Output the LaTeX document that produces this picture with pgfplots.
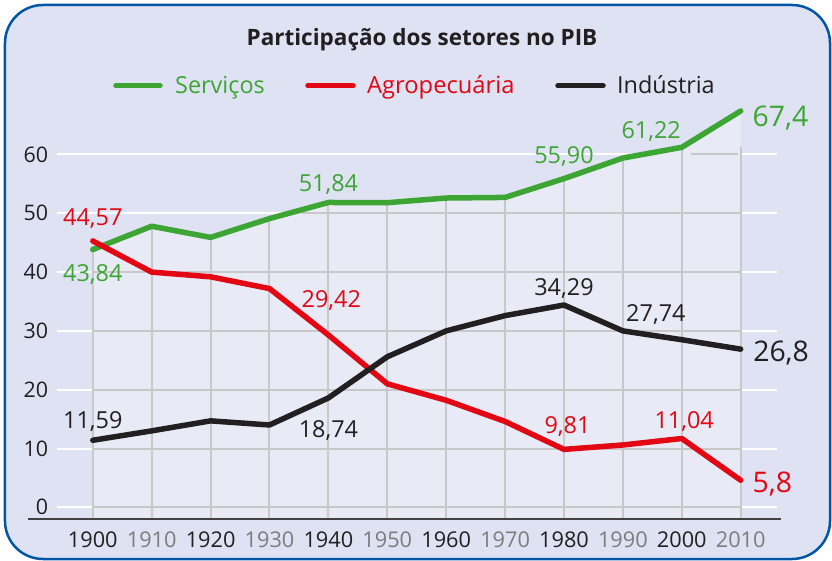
\documentclass[border=0pt]{standalone}
\usepackage{pgfplots}
\pgfplotsset{compat=1.18}
\usepackage{fontspec}
\setmainfont{Open Sans}
\definecolor{gserv}{RGB}{61,165,52}
\definecolor{ragro}{RGB}{227,6,19}
\definecolor{kind}{RGB}{35,31,32}
\definecolor{panel}{RGB}{222,226,242}
\definecolor{lightbg}{RGB}{232,234,246}
\definecolor{gridgray}{RGB}{200,200,200}
\definecolor{frameblue}{RGB}{0,86,164}
\definecolor{tickgray}{RGB}{125,125,125}
\pgfplotstableread{
year serv agro ind
1900 43.84 45.3 11.4
1910 47.8 40.0 13.0
1920 45.9 39.2 14.7
1930 49.1 37.2 14.0
1940 51.84 29.3 18.6
1950 51.8 21.0 25.6
1960 52.6 18.2 30.0
1970 52.7 14.6 32.6
1980 55.9 9.85 34.4
1990 59.4 10.6 30.0
2000 61.22 11.7 28.5
2010 67.4 4.6 26.9
}\datatable
\newcommand{\lab}{\fontsize{23.5}{28}\selectfont}
\newcommand{\biglab}{\fontsize{28.5}{34}\selectfont}
\begin{document}
\begin{tikzpicture}
\path[use as bounding box] (-28bp,-41.7bp) rectangle (804bp,519.3bp);
\draw[fill=panel, draw=frameblue, line width=2.5bp, rounded corners=38bp] (-23bp,-39.7bp) rectangle (802bp,514.3bp);
% title and legend
\node[anchor=base, inner sep=0pt, text=kind] at (394bp,473.3bp) {\fontsize{22.6}{27}\selectfont\bfseries Participação dos setores no PIB};
\draw[gserv, line width=5.5bp, line cap=round] (88bp,433.6bp) -- (132bp,433.6bp);
\node[anchor=base west, inner sep=0pt, text=gserv] at (147bp,425.3bp) {\fontsize{23.5}{27}\selectfont Serviços};
\draw[ragro, line width=5.5bp, line cap=round] (280bp,433.6bp) -- (325bp,433.6bp);
\node[anchor=base west, inner sep=0pt, text=ragro] at (339bp,425.3bp) {\fontsize{23.8}{27}\selectfont Agropecuária};
\draw[kind, line width=5.5bp, line cap=round] (530bp,433.6bp) -- (575bp,433.6bp);
\node[anchor=base west, inner sep=0pt, text=kind] at (589bp,425.3bp) {\fontsize{23.5}{27}\selectfont Indústria};
\begin{axis}[
  at={(0bp,0bp)}, anchor=south west,
  x=5.89bp, y=5.88bp,
  xmin=1889, xmax=2016.8, ymin=-2.04, ymax=70,
  clip=false,
  axis line style={draw=none},
  major tick length=0pt,
  xtick={1900,1910,...,2010},
  xticklabels={{\color{kind}1900},{\color{tickgray}1910},{\color{kind}1920},{\color{tickgray}1930},{\color{kind}1940},{\color{tickgray}1950},{\color{kind}1960},{\color{tickgray}1970},{\color{kind}1980},{\color{tickgray}1990},{\color{kind}2000},{\color{tickgray}2010}},
  ytick={0,10,...,60},
  /pgf/number format/assume math mode=true,
  xticklabel style={font=\fontsize{21.8}{22}\selectfont, anchor=north, inner sep=0pt, yshift=-12.5bp},
  yticklabel style={font=\fontsize{21.5}{22}\selectfont, text=kind, anchor=east, inner sep=0pt, xshift=20.3bp},
]
% white grid lines over the whole panel
\pgfplotsinvokeforeach{0,10,20,30,40,50,60}{
  \draw[white, line width=2bp] (axis cs:1894,#1) -- (axis cs:2016.2,#1);
}
% lighter area under the Serviços line
\addplot[fill=lightbg, draw=none] coordinates {
 (1900,-1.9) (1900,43.84) (1910,47.8) (1920,45.9) (1930,49.1) (1940,51.84) (1950,51.8)
 (1960,52.6) (1970,52.7) (1980,55.9) (1990,59.4) (2000,61.22) (2010,67.4) (2010,-1.9)
} -- cycle;
% gray grid inside the lighter area
\pgfplotsinvokeforeach{0,10,20,30,40}{
  \draw[gridgray, line width=2bp] (axis cs:1900,#1) -- (axis cs:2010,#1);
}
\draw[gridgray, line width=2bp] (axis cs:1935.5,50) -- (axis cs:2010,50);
\draw[gridgray, line width=2bp] (axis cs:2001.5,60) -- (axis cs:2009.6,60);
\draw[gridgray, line width=2bp] (axis cs:1900,-2) -- (axis cs:1900,43.5);
\draw[gridgray, line width=2bp] (axis cs:1910,-2) -- (axis cs:1910,47.5);
\draw[gridgray, line width=2bp] (axis cs:1920,-2) -- (axis cs:1920,45.5);
\draw[gridgray, line width=2bp] (axis cs:1930,-2) -- (axis cs:1930,48.8);
\draw[gridgray, line width=2bp] (axis cs:1940,-2) -- (axis cs:1940,51.5);
\draw[gridgray, line width=2bp] (axis cs:1950,-2) -- (axis cs:1950,51.5);
\draw[gridgray, line width=2bp] (axis cs:1960,-2) -- (axis cs:1960,52.3);
\draw[gridgray, line width=2bp] (axis cs:1970,-2) -- (axis cs:1970,52.4);
\draw[gridgray, line width=2bp] (axis cs:1980,-2) -- (axis cs:1980,55.5);
\draw[gridgray, line width=2bp] (axis cs:1990,-2) -- (axis cs:1990,59.0);
\draw[gridgray, line width=2bp] (axis cs:2000,-2) -- (axis cs:2000,60.9);
\draw[gridgray, line width=2bp] (axis cs:2010,-2) -- (axis cs:2010,61.3);
% bottom axis line
\draw[kind!85, line width=2bp] (axis cs:1889,-2.04) -- (axis cs:2016.8,-2.04);
% series
\addplot[gserv, line width=5.5bp, line join=round, line cap=round] table[x=year, y=serv] {\datatable};
\addplot[ragro, line width=5.5bp, line join=round, line cap=round] table[x=year, y=agro] {\datatable};
\addplot[kind, line width=5.5bp, line join=round, line cap=round] table[x=year, y=ind] {\datatable};
% value labels
\node[anchor=base, inner sep=0pt, text=ragro] at (axis cs:1900,47.95) {\lab 44,57};
\node[anchor=base, inner sep=0pt, text=gserv] at (axis cs:1900,38.35) {\lab 43,84};
\node[anchor=base, inner sep=0pt, text=gserv] at (axis cs:1940,53.65) {\lab 51,84};
\node[anchor=base, inner sep=0pt, text=ragro] at (axis cs:1940.5,33.95) {\lab 29,42};
\node[anchor=base, inner sep=0pt, text=gserv] at (axis cs:1980,58.45) {\lab 55,90};
\node[anchor=base, inner sep=0pt, text=gserv] at (axis cs:1994.8,62.65) {\lab 61,22};
\node[anchor=base west, inner sep=0pt, text=gserv] at (axis cs:2012,64.7) {\biglab 67,4};
\node[anchor=base, inner sep=0pt, text=kind] at (axis cs:1980,36.05) {\lab 34,29};
\node[anchor=base, inner sep=0pt, text=kind] at (axis cs:1995.6,31.55) {\lab 27,74};
\node[anchor=base west, inner sep=0pt, text=kind] at (axis cs:2012.1,24.8) {\biglab 26,8};
\node[anchor=base, inner sep=0pt, text=kind] at (axis cs:1900,13.35) {\lab 11,59};
\node[anchor=base, inner sep=0pt, text=kind] at (axis cs:1940,11.85) {\lab 18,74};
\node[anchor=base, inner sep=0pt, text=ragro] at (axis cs:1980.6,12.55) {\lab 9,81};
\node[anchor=base, inner sep=0pt, text=ragro] at (axis cs:2000.4,13.35) {\lab 11,04};
\node[anchor=base west, inner sep=0pt, text=ragro] at (axis cs:2012,2.55) {\biglab 5,8};
\end{axis}
\end{tikzpicture}
\end{document}
